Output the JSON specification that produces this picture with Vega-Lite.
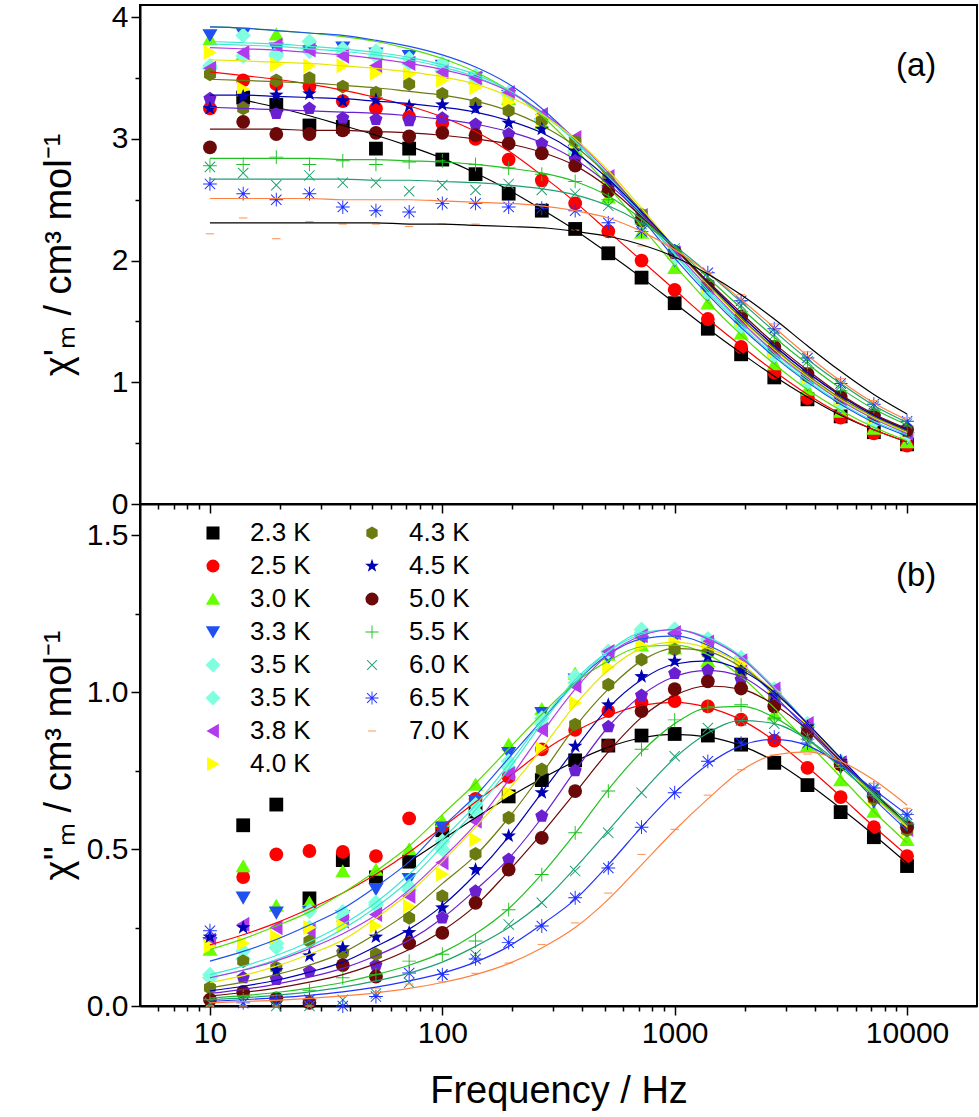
{
  "$schema": "https://vega.github.io/schema/vega-lite/v6.json",
  "padding": {"left": 39, "top": 1, "right": 3, "bottom": 2},
  "config": {
    "font": "Liberation Sans",
    "view": {"stroke": "black", "strokeWidth": 2},
    "axis": {"grid": false, "domainColor": "black", "domainWidth": 2, "tickColor": "black", "tickWidth": 1.5, "labelColor": "black", "titleColor": "black", "labelFont": "Liberation Sans", "titleFont": "Liberation Sans", "labelFontSize": 30, "titleFontSize": 38, "titleFontWeight": "normal", "labelPadding": 3}
  },
  "spacing": 0,
  "bounds": "flush",
  "resolve": {"scale": {"color": "independent", "shape": "independent", "stroke": "independent", "y": "independent", "x": "independent"}, "legend": {"color": "independent", "shape": "independent", "stroke": "independent"}},
  "datasets": {
    "d": [
      {"s":"2.3 K","f":13.9,"p1":3.34,"c1":3.32,"p2":0.576},
      {"s":"2.3 K","f":19.3,"p1":3.28,"c1":3.26,"p2":0.642},
      {"s":"2.3 K","f":26.8,"p1":3.11,"c1":3.19,"p2":0.343},
      {"s":"2.3 K","f":37.3,"p1":3.10,"c1":3.11,"p2":0.465},
      {"s":"2.3 K","f":51.8,"p1":2.92,"c1":3.03,"p2":0.41},
      {"s":"2.3 K","f":72,"p1":2.92,"c1":2.94,"p2":0.46,"c2":0.46},
      {"s":"2.3 K","f":100,"p1":2.83,"c1":2.84,"p2":0.56,"c2":0.53},
      {"s":"2.3 K","f":139,"p1":2.71,"c1":2.72,"p2":0.62,"c2":0.60},
      {"s":"2.3 K","f":193,"p1":2.55,"c1":2.58,"p2":0.668,"c2":0.665},
      {"s":"2.3 K","f":268,"p1":2.41,"c1":2.42,"p2":0.72,"c2":0.725},
      {"s":"2.3 K","f":373,"p1":2.26,"c1":2.25,"p2":0.783,"c2":0.78},
      {"s":"2.3 K","f":518,"p1":2.06,"c1":2.06,"p2":0.83,"c2":0.825},
      {"s":"2.3 K","f":720,"p1":1.86,"c1":1.86,"p2":0.862,"c2":0.855},
      {"s":"2.3 K","f":1000,"p1":1.65,"c1":1.65,"p2":0.867,"c2":0.866},
      {"s":"2.3 K","f":1389,"p1":1.44,"c1":1.44,"p2":0.862,"c2":0.858},
      {"s":"2.3 K","f":1931,"p1":1.23,"c1":1.24,"p2":0.833,"c2":0.83},
      {"s":"2.3 K","f":2683,"p1":1.04,"c1":1.05,"p2":0.775,"c2":0.78},
      {"s":"2.3 K","f":3728,"p1":0.86,"c1":0.88,"p2":0.704,"c2":0.71},
      {"s":"2.3 K","f":5179,"p1":0.72,"c1":0.73,"p2":0.618,"c2":0.63},
      {"s":"2.3 K","f":7197,"p1":0.59,"c1":0.61,"p2":0.538,"c2":0.545},
      {"s":"2.3 K","f":10000,"p1":0.49,"c1":0.51,"p2":0.446,"c2":0.455},

      {"s":"2.5 K","f":10,"p1":3.25,"c1":3.55,"c2":0.195},
      {"s":"2.5 K","f":13.9,"p1":3.48,"c1":3.52,"p2":0.411,"c2":0.227},
      {"s":"2.5 K","f":19.3,"p1":3.45,"c1":3.49,"p2":0.483,"c2":0.265},
      {"s":"2.5 K","f":26.8,"p1":3.43,"c1":3.45,"p2":0.494,"c2":0.31},
      {"s":"2.5 K","f":37.3,"p1":3.31,"c1":3.40,"p2":0.491,"c2":0.36},
      {"s":"2.5 K","f":51.8,"p1":3.25,"c1":3.34,"p2":0.478,"c2":0.42},
      {"s":"2.5 K","f":72,"p1":3.18,"c1":3.27,"p2":0.598,"c2":0.49},
      {"s":"2.5 K","f":100,"p1":3.13,"c1":3.18,"p2":0.573,"c2":0.57},
      {"s":"2.5 K","f":139,"p1":3.00,"c1":3.06,"p2":0.66,"c2":0.65},
      {"s":"2.5 K","f":193,"p1":2.83,"c1":2.90,"p2":0.73,"c2":0.73},
      {"s":"2.5 K","f":268,"p1":2.66,"c1":2.70,"p2":0.818,"c2":0.81},
      {"s":"2.5 K","f":373,"p1":2.47,"c1":2.48,"p2":0.88,"c2":0.875},
      {"s":"2.5 K","f":518,"p1":2.24,"c1":2.24,"p2":0.94,"c2":0.925},
      {"s":"2.5 K","f":720,"p1":2.00,"c1":2.00,"p2":0.967,"c2":0.958},
      {"s":"2.5 K","f":1000,"p1":1.76,"c1":1.76,"p2":0.972,"c2":0.968},
      {"s":"2.5 K","f":1389,"p1":1.52,"c1":1.52,"p2":0.955,"c2":0.952},
      {"s":"2.5 K","f":1931,"p1":1.29,"c1":1.30,"p2":0.913,"c2":0.912},
      {"s":"2.5 K","f":2683,"p1":1.08,"c1":1.09,"p2":0.846,"c2":0.846},
      {"s":"2.5 K","f":3728,"p1":0.87,"c1":0.90,"p2":0.759,"c2":0.762},
      {"s":"2.5 K","f":5179,"p1":0.71,"c1":0.74,"p2":0.666,"c2":0.668},
      {"s":"2.5 K","f":7197,"p1":0.58,"c1":0.61,"p2":0.57,"c2":0.572},
      {"s":"2.5 K","f":10000,"p1":0.48,"c1":0.51,"p2":0.478,"c2":0.48},

      {"s":"3.0 K","f":10,"p1":3.82,"c1":3.92,"p2":0.18,"c2":0.18},
      {"s":"3.0 K","f":13.9,"p1":3.70,"c1":3.91,"p2":0.446,"c2":0.214},
      {"s":"3.0 K","f":19.3,"p1":3.86,"c1":3.89,"p2":0.32,"c2":0.255},
      {"s":"3.0 K","f":26.8,"p1":3.79,"c1":3.87,"p2":0.33,"c2":0.30},
      {"s":"3.0 K","f":37.3,"p1":3.74,"c1":3.84,"p2":0.43,"c2":0.36},
      {"s":"3.0 K","f":51.8,"p1":3.71,"c1":3.80,"p2":0.435,"c2":0.43},
      {"s":"3.0 K","f":72,"p1":3.66,"c1":3.74,"p2":0.50,"c2":0.51},
      {"s":"3.0 K","f":100,"p1":3.60,"c1":3.66,"p2":0.59,"c2":0.61},
      {"s":"3.0 K","f":139,"p1":3.50,"c1":3.55,"p2":0.706,"c2":0.71},
      {"s":"3.0 K","f":193,"p1":3.33,"c1":3.40,"p2":0.834,"c2":0.82},
      {"s":"3.0 K","f":268,"p1":3.13,"c1":3.19,"p2":0.947,"c2":0.93},
      {"s":"3.0 K","f":373,"p1":2.92,"c1":2.92,"p2":1.06,"c2":1.03},
      {"s":"3.0 K","f":518,"p1":2.52,"c1":2.61,"p2":1.12,"c2":1.10},
      {"s":"3.0 K","f":720,"p1":2.23,"c1":2.28,"p2":1.15,"c2":1.145},
      {"s":"3.0 K","f":1000,"p1":1.94,"c1":1.96,"p2":1.14,"c2":1.15},
      {"s":"3.0 K","f":1389,"p1":1.65,"c1":1.66,"p2":1.10,"c2":1.12},
      {"s":"3.0 K","f":1931,"p1":1.40,"c1":1.39,"p2":1.03,"c2":1.05},
      {"s":"3.0 K","f":2683,"p1":1.15,"c1":1.15,"p2":0.93,"c2":0.95},
      {"s":"3.0 K","f":3728,"p1":0.94,"c1":0.94,"p2":0.83,"c2":0.84},
      {"s":"3.0 K","f":5179,"p1":0.76,"c1":0.77,"p2":0.72,"c2":0.73},
      {"s":"3.0 K","f":7197,"p1":0.62,"c1":0.63,"p2":0.62,"c2":0.62},
      {"s":"3.0 K","f":10000,"p1":0.51,"c1":0.52,"p2":0.53,"c2":0.52},

      {"s":"3.3 K","f":10,"p1":3.85,"c1":3.92,"p2":0.20,"c2":0.143},
      {"s":"3.3 K","f":13.9,"p1":3.86,"c1":3.91,"p2":0.345,"c2":0.174},
      {"s":"3.3 K","f":19.3,"p1":3.74,"c1":3.89,"p2":0.297,"c2":0.212},
      {"s":"3.3 K","f":26.8,"p1":3.72,"c1":3.87,"p2":0.30,"c2":0.258},
      {"s":"3.3 K","f":37.3,"p1":3.75,"c1":3.85,"p2":0.286,"c2":0.31},
      {"s":"3.3 K","f":51.8,"p1":3.70,"c1":3.81,"p2":0.372,"c2":0.38},
      {"s":"3.3 K","f":72,"p1":3.68,"c1":3.76,"p2":0.404,"c2":0.46},
      {"s":"3.3 K","f":100,"p1":3.60,"c1":3.69,"p2":0.568,"c2":0.57},
      {"s":"3.3 K","f":139,"p1":3.50,"c1":3.59,"p2":0.653,"c2":0.67},
      {"s":"3.3 K","f":193,"p1":3.35,"c1":3.45,"p2":0.806,"c2":0.79},
      {"s":"3.3 K","f":268,"p1":3.12,"c1":3.25,"p2":0.933,"c2":0.91},
      {"s":"3.3 K","f":373,"p1":2.90,"c1":2.99,"p2":1.04,"c2":1.03},
      {"s":"3.3 K","f":518,"p1":2.60,"c1":2.68,"p2":1.11,"c2":1.12},
      {"s":"3.3 K","f":720,"p1":2.30,"c1":2.35,"p2":1.16,"c2":1.17},
      {"s":"3.3 K","f":1000,"p1":2.00,"c1":2.02,"p2":1.17,"c2":1.18},
      {"s":"3.3 K","f":1389,"p1":1.72,"c1":1.72,"p2":1.14,"c2":1.15},
      {"s":"3.3 K","f":1931,"p1":1.45,"c1":1.45,"p2":1.08,"c2":1.09},
      {"s":"3.3 K","f":2683,"p1":1.20,"c1":1.21,"p2":0.98,"c2":0.99},
      {"s":"3.3 K","f":3728,"p1":0.98,"c1":1.00,"p2":0.87,"c2":0.88},
      {"s":"3.3 K","f":5179,"p1":0.80,"c1":0.82,"p2":0.76,"c2":0.77},
      {"s":"3.3 K","f":7197,"p1":0.65,"c1":0.67,"p2":0.65,"c2":0.66},
      {"s":"3.3 K","f":10000,"p1":0.54,"c1":0.56,"p2":0.56,"c2":0.56},

      {"s":"3.5 K","f":10,"p1":3.60,"c1":3.80,"p2":0.10,"c2":0.10},
      {"s":"3.5 K","f":13.9,"p1":3.85,"c1":3.79,"p2":0.175,"c2":0.127},
      {"s":"3.5 K","f":19.3,"p1":3.68,"c1":3.78,"p2":0.186,"c2":0.161},
      {"s":"3.5 K","f":26.8,"p1":3.80,"c1":3.76,"p2":0.302,"c2":0.205},
      {"s":"3.5 K","f":37.3,"p1":3.74,"c1":3.74,"p2":0.283,"c2":0.26},
      {"s":"3.5 K","f":51.8,"p1":3.72,"c1":3.71,"p2":0.322,"c2":0.33},
      {"s":"3.5 K","f":72,"p1":3.66,"c1":3.67,"p2":0.38,"c2":0.42},
      {"s":"3.5 K","f":100,"p1":3.62,"c1":3.61,"p2":0.525,"c2":0.53},
      {"s":"3.5 K","f":139,"p1":3.52,"c1":3.53,"p2":0.642,"c2":0.64},
      {"s":"3.5 K","f":193,"p1":3.38,"c1":3.40,"p2":0.78,"c2":0.77},
      {"s":"3.5 K","f":268,"p1":3.16,"c1":3.22,"p2":0.917,"c2":0.91},
      {"s":"3.5 K","f":373,"p1":2.90,"c1":2.98,"p2":1.05,"c2":1.04},
      {"s":"3.5 K","f":518,"p1":2.60,"c1":2.69,"p2":1.13,"c2":1.13},
      {"s":"3.5 K","f":720,"p1":2.32,"c1":2.37,"p2":1.19,"c2":1.185},
      {"s":"3.5 K","f":1000,"p1":2.02,"c1":2.05,"p2":1.20,"c2":1.20},
      {"s":"3.5 K","f":1389,"p1":1.74,"c1":1.74,"p2":1.16,"c2":1.17},
      {"s":"3.5 K","f":1931,"p1":1.46,"c1":1.47,"p2":1.10,"c2":1.11},
      {"s":"3.5 K","f":2683,"p1":1.22,"c1":1.22,"p2":1.00,"c2":1.01},
      {"s":"3.5 K","f":3728,"p1":1.00,"c1":1.01,"p2":0.89,"c2":0.90},
      {"s":"3.5 K","f":5179,"p1":0.82,"c1":0.83,"p2":0.78,"c2":0.78},
      {"s":"3.5 K","f":7197,"p1":0.67,"c1":0.68,"p2":0.67,"c2":0.67},
      {"s":"3.5 K","f":10000,"p1":0.56,"c1":0.57,"p2":0.57,"c2":0.57},

      {"s":"3.5 K ","f":10,"p1":3.58,"c1":3.78,"p2":0.09,"c2":0.09},
      {"s":"3.5 K ","f":13.9,"p1":3.68,"c1":3.77,"p2":0.15,"c2":0.115},
      {"s":"3.5 K ","f":19.3,"p1":3.70,"c1":3.76,"p2":0.20,"c2":0.148},
      {"s":"3.5 K ","f":26.8,"p1":3.72,"c1":3.74,"p2":0.25,"c2":0.19},
      {"s":"3.5 K ","f":37.3,"p1":3.70,"c1":3.72,"p2":0.30,"c2":0.245},
      {"s":"3.5 K ","f":51.8,"p1":3.68,"c1":3.69,"p2":0.33,"c2":0.315},
      {"s":"3.5 K ","f":72,"p1":3.62,"c1":3.65,"p2":0.37,"c2":0.40},
      {"s":"3.5 K ","f":100,"p1":3.56,"c1":3.59,"p2":0.50,"c2":0.51},
      {"s":"3.5 K ","f":139,"p1":3.50,"c1":3.51,"p2":0.62,"c2":0.625},
      {"s":"3.5 K ","f":193,"p1":3.36,"c1":3.39,"p2":0.76,"c2":0.755},
      {"s":"3.5 K ","f":268,"p1":3.15,"c1":3.21,"p2":0.90,"c2":0.90},
      {"s":"3.5 K ","f":373,"p1":2.90,"c1":2.98,"p2":1.03,"c2":1.03},
      {"s":"3.5 K ","f":518,"p1":2.62,"c1":2.70,"p2":1.13,"c2":1.13},
      {"s":"3.5 K ","f":720,"p1":2.33,"c1":2.38,"p2":1.20,"c2":1.19},
      {"s":"3.5 K ","f":1000,"p1":2.04,"c1":2.06,"p2":1.20,"c2":1.20},
      {"s":"3.5 K ","f":1389,"p1":1.76,"c1":1.76,"p2":1.17,"c2":1.175},
      {"s":"3.5 K ","f":1931,"p1":1.48,"c1":1.49,"p2":1.11,"c2":1.115},
      {"s":"3.5 K ","f":2683,"p1":1.24,"c1":1.24,"p2":1.01,"c2":1.015},
      {"s":"3.5 K ","f":3728,"p1":1.02,"c1":1.03,"p2":0.90,"c2":0.90},
      {"s":"3.5 K ","f":5179,"p1":0.84,"c1":0.85,"p2":0.78,"c2":0.785},
      {"s":"3.5 K ","f":7197,"p1":0.69,"c1":0.70,"p2":0.67,"c2":0.675},
      {"s":"3.5 K ","f":10000,"p1":0.58,"c1":0.58,"p2":0.58,"c2":0.575},

      {"s":"3.8 K","f":10,"p1":3.58,"c1":3.75,"p2":0.21,"c2":0.09},
      {"s":"3.8 K","f":13.9,"p1":3.71,"c1":3.74,"p2":0.26,"c2":0.114},
      {"s":"3.8 K","f":19.3,"p1":3.77,"c1":3.73,"p2":0.25,"c2":0.144},
      {"s":"3.8 K","f":26.8,"p1":3.73,"c1":3.71,"p2":0.24,"c2":0.183},
      {"s":"3.8 K","f":37.3,"p1":3.68,"c1":3.69,"p2":0.27,"c2":0.23},
      {"s":"3.8 K","f":51.8,"p1":3.60,"c1":3.66,"p2":0.292,"c2":0.29},
      {"s":"3.8 K","f":72,"p1":3.62,"c1":3.62,"p2":0.35,"c2":0.37},
      {"s":"3.8 K","f":100,"p1":3.55,"c1":3.57,"p2":0.457,"c2":0.47},
      {"s":"3.8 K","f":139,"p1":3.50,"c1":3.50,"p2":0.589,"c2":0.58},
      {"s":"3.8 K","f":193,"p1":3.38,"c1":3.39,"p2":0.74,"c2":0.72},
      {"s":"3.8 K","f":268,"p1":3.20,"c1":3.22,"p2":0.88,"c2":0.87},
      {"s":"3.8 K","f":373,"p1":3.01,"c1":3.00,"p2":1.02,"c2":1.01},
      {"s":"3.8 K","f":518,"p1":2.69,"c1":2.72,"p2":1.13,"c2":1.12},
      {"s":"3.8 K","f":720,"p1":2.37,"c1":2.40,"p2":1.18,"c2":1.18},
      {"s":"3.8 K","f":1000,"p1":2.06,"c1":2.08,"p2":1.19,"c2":1.20},
      {"s":"3.8 K","f":1389,"p1":1.78,"c1":1.78,"p2":1.16,"c2":1.17},
      {"s":"3.8 K","f":1931,"p1":1.50,"c1":1.50,"p2":1.10,"c2":1.11},
      {"s":"3.8 K","f":2683,"p1":1.25,"c1":1.25,"p2":1.01,"c2":1.01},
      {"s":"3.8 K","f":3728,"p1":1.03,"c1":1.04,"p2":0.90,"c2":0.90},
      {"s":"3.8 K","f":5179,"p1":0.85,"c1":0.85,"p2":0.775,"c2":0.78},
      {"s":"3.8 K","f":7197,"p1":0.70,"c1":0.70,"p2":0.665,"c2":0.67},
      {"s":"3.8 K","f":10000,"p1":0.58,"c1":0.58,"p2":0.563,"c2":0.57},

      {"s":"4.0 K","f":10,"p1":3.71,"c1":3.65,"p2":0.191,"c2":0.075},
      {"s":"4.0 K","f":13.9,"p1":3.41,"c1":3.64,"p2":0.20,"c2":0.097},
      {"s":"4.0 K","f":19.3,"p1":3.61,"c1":3.63,"p2":0.22,"c2":0.127},
      {"s":"4.0 K","f":26.8,"p1":3.60,"c1":3.62,"p2":0.25,"c2":0.165},
      {"s":"4.0 K","f":37.3,"p1":3.60,"c1":3.60,"p2":0.255,"c2":0.21},
      {"s":"4.0 K","f":51.8,"p1":3.54,"c1":3.58,"p2":0.255,"c2":0.28},
      {"s":"4.0 K","f":72,"p1":3.53,"c1":3.55,"p2":0.318,"c2":0.36},
      {"s":"4.0 K","f":100,"p1":3.48,"c1":3.51,"p2":0.42,"c2":0.46},
      {"s":"4.0 K","f":139,"p1":3.42,"c1":3.45,"p2":0.53,"c2":0.57},
      {"s":"4.0 K","f":193,"p1":3.30,"c1":3.35,"p2":0.68,"c2":0.69},
      {"s":"4.0 K","f":268,"p1":3.15,"c1":3.20,"p2":0.82,"c2":0.82},
      {"s":"4.0 K","f":373,"p1":2.95,"c1":3.00,"p2":0.966,"c2":0.96},
      {"s":"4.0 K","f":518,"p1":2.68,"c1":2.74,"p2":1.08,"c2":1.07},
      {"s":"4.0 K","f":720,"p1":2.37,"c1":2.43,"p2":1.15,"c2":1.14},
      {"s":"4.0 K","f":1000,"p1":2.07,"c1":2.11,"p2":1.16,"c2":1.16},
      {"s":"4.0 K","f":1389,"p1":1.79,"c1":1.80,"p2":1.14,"c2":1.14},
      {"s":"4.0 K","f":1931,"p1":1.51,"c1":1.52,"p2":1.09,"c2":1.09},
      {"s":"4.0 K","f":2683,"p1":1.26,"c1":1.27,"p2":1.00,"c2":1.00},
      {"s":"4.0 K","f":3728,"p1":1.04,"c1":1.05,"p2":0.89,"c2":0.90},
      {"s":"4.0 K","f":5179,"p1":0.86,"c1":0.86,"p2":0.77,"c2":0.78},
      {"s":"4.0 K","f":7197,"p1":0.71,"c1":0.71,"p2":0.66,"c2":0.67},
      {"s":"4.0 K","f":10000,"p1":0.59,"c1":0.59,"p2":0.56,"c2":0.57},

      {"s":"P","f":10,"p1":3.33,"c1":3.26,"p2":0.022,"c2":0.04},
      {"s":"P","f":13.9,"p1":3.26,"c1":3.25,"p2":0.09,"c2":0.053},
      {"s":"P","f":19.3,"p1":3.21,"c1":3.24,"p2":0.085,"c2":0.07},
      {"s":"P","f":26.8,"p1":3.25,"c1":3.23,"p2":0.11,"c2":0.092},
      {"s":"P","f":37.3,"p1":3.17,"c1":3.22,"p2":0.17,"c2":0.12},
      {"s":"P","f":51.8,"p1":3.16,"c1":3.21,"p2":0.13,"c2":0.16},
      {"s":"P","f":72,"p1":3.15,"c1":3.19,"p2":0.20,"c2":0.21},
      {"s":"P","f":100,"p1":3.17,"c1":3.16,"p2":0.281,"c2":0.28},
      {"s":"P","f":139,"p1":3.12,"c1":3.12,"p2":0.366,"c2":0.37},
      {"s":"P","f":193,"p1":3.04,"c1":3.06,"p2":0.467,"c2":0.47},
      {"s":"P","f":268,"p1":2.96,"c1":2.97,"p2":0.605,"c2":0.60},
      {"s":"P","f":373,"p1":2.83,"c1":2.83,"p2":0.75,"c2":0.75},
      {"s":"P","f":518,"p1":2.60,"c1":2.63,"p2":0.89,"c2":0.89},
      {"s":"P","f":720,"p1":2.34,"c1":2.38,"p2":0.99,"c2":0.99},
      {"s":"P","f":1000,"p1":2.06,"c1":2.10,"p2":1.06,"c2":1.05},
      {"s":"P","f":1389,"p1":1.79,"c1":1.82,"p2":1.07,"c2":1.07},
      {"s":"P","f":1931,"p1":1.53,"c1":1.55,"p2":1.04,"c2":1.05},
      {"s":"P","f":2683,"p1":1.28,"c1":1.30,"p2":0.97,"c2":0.98},
      {"s":"P","f":3728,"p1":1.06,"c1":1.08,"p2":0.88,"c2":0.89},
      {"s":"P","f":5179,"p1":0.87,"c1":0.89,"p2":0.77,"c2":0.78},
      {"s":"P","f":7197,"p1":0.72,"c1":0.73,"p2":0.67,"c2":0.68},
      {"s":"P","f":10000,"p1":0.60,"c1":0.61,"p2":0.57,"c2":0.58},

      {"s":"4.3 K","f":10,"p1":3.53,"c1":3.49,"p2":0.058,"c2":0.058},
      {"s":"4.3 K","f":13.9,"p1":3.25,"c1":3.48,"p2":0.143,"c2":0.076},
      {"s":"4.3 K","f":19.3,"p1":3.48,"c1":3.47,"p2":0.122,"c2":0.10},
      {"s":"4.3 K","f":26.8,"p1":3.50,"c1":3.46,"p2":0.207,"c2":0.13},
      {"s":"4.3 K","f":37.3,"p1":3.43,"c1":3.44,"p2":0.17,"c2":0.17},
      {"s":"4.3 K","f":51.8,"p1":3.38,"c1":3.42,"p2":0.165,"c2":0.23},
      {"s":"4.3 K","f":72,"p1":3.45,"c1":3.39,"p2":0.281,"c2":0.30},
      {"s":"4.3 K","f":100,"p1":3.37,"c1":3.36,"p2":0.35,"c2":0.39},
      {"s":"4.3 K","f":139,"p1":3.29,"c1":3.31,"p2":0.485,"c2":0.48},
      {"s":"4.3 K","f":193,"p1":3.23,"c1":3.23,"p2":0.60,"c2":0.60},
      {"s":"4.3 K","f":268,"p1":3.15,"c1":3.11,"p2":0.754,"c2":0.74},
      {"s":"4.3 K","f":373,"p1":2.98,"c1":2.94,"p2":0.897,"c2":0.89},
      {"s":"4.3 K","f":518,"p1":2.68,"c1":2.70,"p2":1.024,"c2":1.01},
      {"s":"4.3 K","f":720,"p1":2.38,"c1":2.41,"p2":1.104,"c2":1.10},
      {"s":"4.3 K","f":1000,"p1":2.08,"c1":2.10,"p2":1.136,"c2":1.14},
      {"s":"4.3 K","f":1389,"p1":1.80,"c1":1.81,"p2":1.125,"c2":1.13},
      {"s":"4.3 K","f":1931,"p1":1.52,"c1":1.53,"p2":1.066,"c2":1.08},
      {"s":"4.3 K","f":2683,"p1":1.27,"c1":1.28,"p2":0.987,"c2":1.00},
      {"s":"4.3 K","f":3728,"p1":1.05,"c1":1.06,"p2":0.886,"c2":0.90},
      {"s":"4.3 K","f":5179,"p1":0.87,"c1":0.87,"p2":0.77,"c2":0.79},
      {"s":"4.3 K","f":7197,"p1":0.72,"c1":0.72,"p2":0.66,"c2":0.68},
      {"s":"4.3 K","f":10000,"p1":0.60,"c1":0.60,"p2":0.56,"c2":0.58},

      {"s":"4.5 K","f":10,"p1":3.25,"c1":3.36,"p2":0.22,"c2":0.048},
      {"s":"4.5 K","f":13.9,"p1":3.35,"c1":3.36,"p2":0.25,"c2":0.063},
      {"s":"4.5 K","f":19.3,"p1":3.36,"c1":3.35,"p2":0.113,"c2":0.082},
      {"s":"4.5 K","f":26.8,"p1":3.37,"c1":3.34,"p2":0.16,"c2":0.108},
      {"s":"4.5 K","f":37.3,"p1":3.31,"c1":3.33,"p2":0.186,"c2":0.14},
      {"s":"4.5 K","f":51.8,"p1":3.32,"c1":3.31,"p2":0.22,"c2":0.19},
      {"s":"4.5 K","f":72,"p1":3.27,"c1":3.29,"p2":0.234,"c2":0.245},
      {"s":"4.5 K","f":100,"p1":3.28,"c1":3.26,"p2":0.313,"c2":0.32},
      {"s":"4.5 K","f":139,"p1":3.25,"c1":3.22,"p2":0.435,"c2":0.42},
      {"s":"4.5 K","f":193,"p1":3.13,"c1":3.15,"p2":0.542,"c2":0.54},
      {"s":"4.5 K","f":268,"p1":3.08,"c1":3.05,"p2":0.68,"c2":0.68},
      {"s":"4.5 K","f":373,"p1":2.90,"c1":2.89,"p2":0.828,"c2":0.82},
      {"s":"4.5 K","f":518,"p1":2.65,"c1":2.67,"p2":0.96,"c2":0.95},
      {"s":"4.5 K","f":720,"p1":2.36,"c1":2.40,"p2":1.05,"c2":1.04},
      {"s":"4.5 K","f":1000,"p1":2.07,"c1":2.11,"p2":1.099,"c2":1.09},
      {"s":"4.5 K","f":1389,"p1":1.80,"c1":1.82,"p2":1.115,"c2":1.10},
      {"s":"4.5 K","f":1931,"p1":1.53,"c1":1.55,"p2":1.07,"c2":1.07},
      {"s":"4.5 K","f":2683,"p1":1.28,"c1":1.30,"p2":0.99,"c2":1.00},
      {"s":"4.5 K","f":3728,"p1":1.06,"c1":1.08,"p2":0.89,"c2":0.90},
      {"s":"4.5 K","f":5179,"p1":0.87,"c1":0.89,"p2":0.78,"c2":0.79},
      {"s":"4.5 K","f":7197,"p1":0.72,"c1":0.73,"p2":0.67,"c2":0.68},
      {"s":"4.5 K","f":10000,"p1":0.60,"c1":0.61,"p2":0.57,"c2":0.58},

      {"s":"5.0 K","f":10,"p1":2.93,"c1":3.08,"p2":0.02,"c2":0.032},
      {"s":"5.0 K","f":13.9,"p1":3.14,"c1":3.08,"p2":0.045,"c2":0.043},
      {"s":"5.0 K","f":19.3,"p1":3.04,"c1":3.08,"p2":0.024,"c2":0.057},
      {"s":"5.0 K","f":26.8,"p1":3.04,"c1":3.07,"p2":0.01,"c2":0.076},
      {"s":"5.0 K","f":37.3,"p1":3.07,"c1":3.07,"p2":0.13,"c2":0.10},
      {"s":"5.0 K","f":51.8,"p1":3.05,"c1":3.06,"p2":0.094,"c2":0.135},
      {"s":"5.0 K","f":72,"p1":3.02,"c1":3.05,"p2":0.20,"c2":0.18},
      {"s":"5.0 K","f":100,"p1":3.05,"c1":3.03,"p2":0.233,"c2":0.24},
      {"s":"5.0 K","f":139,"p1":3.03,"c1":3.00,"p2":0.329,"c2":0.32},
      {"s":"5.0 K","f":193,"p1":2.96,"c1":2.96,"p2":0.435,"c2":0.43},
      {"s":"5.0 K","f":268,"p1":2.88,"c1":2.89,"p2":0.536,"c2":0.55},
      {"s":"5.0 K","f":373,"p1":2.78,"c1":2.78,"p2":0.685,"c2":0.68},
      {"s":"5.0 K","f":518,"p1":2.57,"c1":2.60,"p2":0.83,"c2":0.81},
      {"s":"5.0 K","f":720,"p1":2.33,"c1":2.36,"p2":0.94,"c2":0.92},
      {"s":"5.0 K","f":1000,"p1":2.07,"c1":2.10,"p2":1.01,"c2":0.99},
      {"s":"5.0 K","f":1389,"p1":1.80,"c1":1.83,"p2":1.035,"c2":1.02},
      {"s":"5.0 K","f":1931,"p1":1.54,"c1":1.57,"p2":1.012,"c2":1.01},
      {"s":"5.0 K","f":2683,"p1":1.29,"c1":1.32,"p2":0.955,"c2":0.96},
      {"s":"5.0 K","f":3728,"p1":1.07,"c1":1.10,"p2":0.87,"c2":0.88},
      {"s":"5.0 K","f":5179,"p1":0.88,"c1":0.90,"p2":0.77,"c2":0.78},
      {"s":"5.0 K","f":7197,"p1":0.73,"c1":0.74,"p2":0.67,"c2":0.68},
      {"s":"5.0 K","f":10000,"p1":0.61,"c1":0.62,"p2":0.57,"c2":0.58},

      {"s":"5.5 K","f":10,"p1":2.78,"c1":2.84,"p2":0.02,"c2":0.025},
      {"s":"5.5 K","f":13.9,"p1":2.79,"c1":2.84,"p2":0.03,"c2":0.033},
      {"s":"5.5 K","f":19.3,"p1":2.85,"c1":2.84,"p2":0.02,"c2":0.043},
      {"s":"5.5 K","f":26.8,"p1":2.79,"c1":2.84,"p2":0.05,"c2":0.057},
      {"s":"5.5 K","f":37.3,"p1":2.82,"c1":2.83,"p2":0.09,"c2":0.075},
      {"s":"5.5 K","f":51.8,"p1":2.79,"c1":2.83,"p2":0.10,"c2":0.10},
      {"s":"5.5 K","f":72,"p1":2.81,"c1":2.82,"p2":0.143,"c2":0.13},
      {"s":"5.5 K","f":100,"p1":2.82,"c1":2.81,"p2":0.165,"c2":0.17},
      {"s":"5.5 K","f":139,"p1":2.79,"c1":2.79,"p2":0.207,"c2":0.23},
      {"s":"5.5 K","f":193,"p1":2.76,"c1":2.76,"p2":0.307,"c2":0.31},
      {"s":"5.5 K","f":268,"p1":2.71,"c1":2.72,"p2":0.419,"c2":0.42},
      {"s":"5.5 K","f":373,"p1":2.65,"c1":2.65,"p2":0.552,"c2":0.55},
      {"s":"5.5 K","f":518,"p1":2.50,"c1":2.53,"p2":0.685,"c2":0.69},
      {"s":"5.5 K","f":720,"p1":2.30,"c1":2.34,"p2":0.818,"c2":0.81},
      {"s":"5.5 K","f":1000,"p1":2.07,"c1":2.11,"p2":0.912,"c2":0.90},
      {"s":"5.5 K","f":1389,"p1":1.83,"c1":1.86,"p2":0.955,"c2":0.95},
      {"s":"5.5 K","f":1931,"p1":1.58,"c1":1.61,"p2":0.96,"c2":0.955},
      {"s":"5.5 K","f":2683,"p1":1.34,"c1":1.37,"p2":0.918,"c2":0.92},
      {"s":"5.5 K","f":3728,"p1":1.12,"c1":1.15,"p2":0.85,"c2":0.85},
      {"s":"5.5 K","f":5179,"p1":0.93,"c1":0.95,"p2":0.76,"c2":0.76},
      {"s":"5.5 K","f":7197,"p1":0.77,"c1":0.78,"p2":0.67,"c2":0.67},
      {"s":"5.5 K","f":10000,"p1":0.64,"c1":0.65,"p2":0.58,"c2":0.58},

      {"s":"6.0 K","f":10,"p1":2.77,"c1":2.67,"p2":0.01,"c2":0.02},
      {"s":"6.0 K","f":13.9,"p1":2.72,"c1":2.67,"p2":0.01,"c2":0.026},
      {"s":"6.0 K","f":19.3,"p1":2.62,"c1":2.67,"p2":0.0,"c2":0.034},
      {"s":"6.0 K","f":26.8,"p1":2.70,"c1":2.67,"p2":0.0,"c2":0.045},
      {"s":"6.0 K","f":37.3,"p1":2.64,"c1":2.67,"p2":0.02,"c2":0.06},
      {"s":"6.0 K","f":51.8,"p1":2.64,"c1":2.66,"p2":0.04,"c2":0.08},
      {"s":"6.0 K","f":72,"p1":2.57,"c1":2.66,"p2":0.074,"c2":0.105},
      {"s":"6.0 K","f":100,"p1":2.62,"c1":2.65,"p2":0.10,"c2":0.14},
      {"s":"6.0 K","f":139,"p1":2.58,"c1":2.64,"p2":0.164,"c2":0.19},
      {"s":"6.0 K","f":193,"p1":2.63,"c1":2.62,"p2":0.26,"c2":0.25},
      {"s":"6.0 K","f":268,"p1":2.58,"c1":2.59,"p2":0.329,"c2":0.33},
      {"s":"6.0 K","f":373,"p1":2.55,"c1":2.54,"p2":0.43,"c2":0.44},
      {"s":"6.0 K","f":518,"p1":2.45,"c1":2.45,"p2":0.552,"c2":0.56},
      {"s":"6.0 K","f":720,"p1":2.30,"c1":2.31,"p2":0.68,"c2":0.68},
      {"s":"6.0 K","f":1000,"p1":2.10,"c1":2.12,"p2":0.796,"c2":0.79},
      {"s":"6.0 K","f":1389,"p1":1.87,"c1":1.90,"p2":0.886,"c2":0.87},
      {"s":"6.0 K","f":1931,"p1":1.63,"c1":1.66,"p2":0.91,"c2":0.91},
      {"s":"6.0 K","f":2683,"p1":1.39,"c1":1.42,"p2":0.90,"c2":0.90},
      {"s":"6.0 K","f":3728,"p1":1.17,"c1":1.19,"p2":0.86,"c2":0.85},
      {"s":"6.0 K","f":5179,"p1":0.97,"c1":0.99,"p2":0.78,"c2":0.77},
      {"s":"6.0 K","f":7197,"p1":0.80,"c1":0.81,"p2":0.69,"c2":0.68},
      {"s":"6.0 K","f":10000,"p1":0.66,"c1":0.67,"p2":0.60,"c2":0.59},

      {"s":"6.5 K","f":10,"p1":2.63,"c1":2.51,"p2":0.24,"c2":0.015},
      {"s":"6.5 K","f":13.9,"p1":2.55,"c1":2.51,"p2":0.01,"c2":0.02},
      {"s":"6.5 K","f":19.3,"p1":2.50,"c1":2.51,"p2":0.02,"c2":0.026},
      {"s":"6.5 K","f":26.8,"p1":2.55,"c1":2.51,"p2":0.02,"c2":0.034},
      {"s":"6.5 K","f":37.3,"p1":2.44,"c1":2.50,"p2":0.0,"c2":0.045},
      {"s":"6.5 K","f":51.8,"p1":2.41,"c1":2.50,"p2":0.03,"c2":0.06},
      {"s":"6.5 K","f":72,"p1":2.40,"c1":2.50,"p2":0.105,"c2":0.08},
      {"s":"6.5 K","f":100,"p1":2.47,"c1":2.49,"p2":0.10,"c2":0.105},
      {"s":"6.5 K","f":139,"p1":2.47,"c1":2.48,"p2":0.15,"c2":0.14},
      {"s":"6.5 K","f":193,"p1":2.44,"c1":2.47,"p2":0.202,"c2":0.19},
      {"s":"6.5 K","f":268,"p1":2.43,"c1":2.45,"p2":0.255,"c2":0.26},
      {"s":"6.5 K","f":373,"p1":2.41,"c1":2.41,"p2":0.345,"c2":0.34},
      {"s":"6.5 K","f":518,"p1":2.31,"c1":2.35,"p2":0.44,"c2":0.45},
      {"s":"6.5 K","f":720,"p1":2.24,"c1":2.24,"p2":0.57,"c2":0.57},
      {"s":"6.5 K","f":1000,"p1":2.08,"c1":2.09,"p2":0.68,"c2":0.68},
      {"s":"6.5 K","f":1389,"p1":1.90,"c1":1.90,"p2":0.78,"c2":0.77},
      {"s":"6.5 K","f":1931,"p1":1.67,"c1":1.68,"p2":0.838,"c2":0.83},
      {"s":"6.5 K","f":2683,"p1":1.44,"c1":1.45,"p2":0.857,"c2":0.85},
      {"s":"6.5 K","f":3728,"p1":1.20,"c1":1.22,"p2":0.838,"c2":0.83},
      {"s":"6.5 K","f":5179,"p1":0.99,"c1":1.01,"p2":0.78,"c2":0.77},
      {"s":"6.5 K","f":7197,"p1":0.82,"c1":0.83,"p2":0.695,"c2":0.69},
      {"s":"6.5 K","f":10000,"p1":0.68,"c1":0.69,"p2":0.61,"c2":0.61},

      {"s":"7.0 K","f":10,"p1":2.22,"c1":2.31,"p2":0.0,"c2":0.01},
      {"s":"7.0 K","f":13.9,"p1":2.35,"c1":2.31,"p2":0.0,"c2":0.014},
      {"s":"7.0 K","f":19.3,"p1":2.18,"c1":2.31,"p2":0.0,"c2":0.018},
      {"s":"7.0 K","f":26.8,"p1":2.32,"c1":2.31,"p2":0.0,"c2":0.024},
      {"s":"7.0 K","f":37.3,"p1":2.30,"c1":2.31,"p2":0.03,"c2":0.032},
      {"s":"7.0 K","f":51.8,"p1":2.30,"c1":2.31,"p2":0.057,"c2":0.042},
      {"s":"7.0 K","f":72,"p1":2.28,"c1":2.30,"p2":0.07,"c2":0.056},
      {"s":"7.0 K","f":100,"p1":2.30,"c1":2.30,"p2":0.077,"c2":0.075},
      {"s":"7.0 K","f":139,"p1":2.30,"c1":2.29,"p2":0.104,"c2":0.10},
      {"s":"7.0 K","f":193,"p1":2.28,"c1":2.28,"p2":0.137,"c2":0.135},
      {"s":"7.0 K","f":268,"p1":2.27,"c1":2.27,"p2":0.196,"c2":0.185},
      {"s":"7.0 K","f":373,"p1":2.25,"c1":2.24,"p2":0.265,"c2":0.25},
      {"s":"7.0 K","f":518,"p1":2.20,"c1":2.20,"p2":0.36,"c2":0.34},
      {"s":"7.0 K","f":720,"p1":2.12,"c1":2.13,"p2":0.483,"c2":0.45},
      {"s":"7.0 K","f":1000,"p1":2.03,"c1":2.03,"p2":0.563,"c2":0.56},
      {"s":"7.0 K","f":1389,"p1":1.90,"c1":1.89,"p2":0.672,"c2":0.66},
      {"s":"7.0 K","f":1931,"p1":1.72,"c1":1.72,"p2":0.753,"c2":0.75},
      {"s":"7.0 K","f":2683,"p1":1.48,"c1":1.52,"p2":0.80,"c2":0.80},
      {"s":"7.0 K","f":3728,"p1":1.25,"c1":1.30,"p2":0.803,"c2":0.81},
      {"s":"7.0 K","f":5179,"p1":1.03,"c1":1.09,"p2":0.77,"c2":0.78},
      {"s":"7.0 K","f":7197,"p1":0.85,"c1":0.90,"p2":0.71,"c2":0.72},
      {"s":"7.0 K","f":10000,"p1":0.71,"c1":0.74,"p2":0.63,"c2":0.64}
    ]
  },
  "vconcat": [
    {
      "width": 837,
      "height": 499,
      "layer": [
        {
          "data": {"name": "d"},
          "transform": [{"filter": {"field": "p1", "valid": true}}],
          "mark": {"type": "point", "filled": true, "opacity": 1, "size": 190, "strokeWidth": 0},
          "encoding": {
            "x": {"field": "f", "type": "quantitative", "scale": {"type": "log", "domain": [5, 20000], "nice": false},
              "axis": {"title": null, "labels": false, "values": [6,7,8,9,10,20,30,40,50,60,70,80,90,100,200,300,400,500,600,700,800,900,1000,2000,3000,4000,5000,6000,7000,8000,9000,10000],
                "tickSize": {"condition": {"test": "indexof([10,100,1000,10000], datum.value) >= 0", "value": 9}, "value": 5}}},
            "y": {"field": "p1", "type": "quantitative", "scale": {"domain": [0, 4.1], "nice": false},
              "axis": {"title": "χ'ₘ / cm³ mol⁻¹", "titleX": -81, "titleBaseline": "middle", "values": [0,0.5,1,1.5,2,2.5,3,3.5,4],
                "labelExpr": "datum.value % 1 === 0 ? format(datum.value, 'd') : ''",
                "tickSize": {"condition": {"test": "datum.value % 1 === 0", "value": 9}, "value": 5}}},
            "color": {"field": "s", "type": "nominal", "legend": null,
              "scale": {"domain": ["2.3 K","2.5 K","3.0 K","3.3 K","3.5 K","3.5 K ","3.8 K","4.0 K","P","4.3 K","4.5 K","5.0 K","5.5 K","6.0 K","6.5 K","7.0 K"],
                "range": ["#000000","#FF0000","#66FF00","#2050F0","#7FFFDF","#7FFFDF","#B23AEE","#FFFF00","#6A1FD1","#6B7B0F","#0000B4","#6B0808","#22C022","#1FA070","#2030FF","#FF9A60"]}},
            "shape": {"field": "s", "type": "nominal", "legend": null,
              "scale": {"domain": ["2.3 K","2.5 K","3.0 K","3.3 K","3.5 K","3.5 K ","3.8 K","4.0 K","P","4.3 K","4.5 K","5.0 K","5.5 K","6.0 K","6.5 K","7.0 K"],
                "range": ["square","circle","M0,-1L1.1,0.9H-1.1Z","M0,1L1.1,-0.9H-1.1Z","M0,-1.15L1.15,0L0,1.15L-1.15,0Z","M0,-1.15L1.15,0L0,1.15L-1.15,0Z","M-1,0L0.9,-1.1V1.1Z","M1,0L-0.9,-1.1V1.1Z","M0,-1L0.951,-0.309L0.588,0.809L-0.588,0.809L-0.951,-0.309Z","M0,-1L0.866,-0.5L0.866,0.5L0,1L-0.866,0.5L-0.866,-0.5Z","M0,-1.1L0.26,-0.36L1.05,-0.34L0.42,0.14L0.65,0.89L0,0.44L-0.65,0.89L-0.42,0.14L-1.05,-0.34L-0.26,-0.36Z","circle","M-0.07,-1H0.07V-0.07H1V0.07H0.07V1H-0.07V0.07H-1V-0.07H-0.07Z","M-0.7,-0.8L0.8,0.7L0.7,0.8L-0.8,-0.7ZM-0.8,0.7L0.7,-0.8L0.8,-0.7L-0.7,0.8Z","M-0.07,-1H0.07V-0.07H1V0.07H0.07V1H-0.07V0.07H-1V-0.07H-0.07ZM-0.7,-0.8L0.8,0.7L0.7,0.8L-0.8,-0.7ZM-0.8,0.7L0.7,-0.8L0.8,-0.7L-0.7,0.8ZM-0.2,-0.2H0.2V0.2H-0.2Z","M-0.6,-0.08H0.6V0.08H-0.6Z"]}}
          }
        },
        {
          "data": {"name": "d"},
          "transform": [{"filter": {"field": "c1", "valid": true}}],
          "mark": {"type": "line", "interpolate": "monotone", "strokeWidth": 1.2},
          "encoding": {
            "x": {"field": "f", "type": "quantitative"},
            "y": {"field": "c1", "type": "quantitative", "title": "χ'ₘ / cm³ mol⁻¹"},
            "stroke": {"field": "s", "type": "nominal", "legend": null,
              "scale": {"domain": ["2.3 K","2.5 K","3.0 K","3.3 K","3.5 K","3.5 K ","3.8 K","4.0 K","P","4.3 K","4.5 K","5.0 K","5.5 K","6.0 K","6.5 K","7.0 K"],
                "range": ["#000000","#FF0000","#55DD00","#2050F0","#40E8D0","#40E8D0","#B23AEE","#E6E600","#6A1FD1","#6B7B0F","#0000B4","#6B0808","#22C022","#1FA070","#FF8040","#000000"]}}
          }
        },
        {
          "data": {"values": [{"t": "(a)"}]},
          "mark": {"type": "text", "fontSize": 33, "font": "Liberation Sans", "color": "black", "baseline": "middle", "align": "center"},
          "encoding": {
            "x": {"datum": 10940, "type": "quantitative"},
            "y": {"datum": 3.6, "type": "quantitative"},
            "text": {"field": "t"}
          }
        }
      ]
    },
    {
      "width": 837,
      "height": 502,
      "layer": [
        {
          "data": {"name": "d"},
          "transform": [{"filter": {"field": "p2", "valid": true}}],
          "mark": {"type": "point", "filled": true, "opacity": 1, "size": 190, "strokeWidth": 0},
          "encoding": {
            "x": {"field": "f", "type": "quantitative", "scale": {"type": "log", "domain": [5, 20000], "nice": false},
              "axis": {"title": "Frequency / Hz", "titlePadding": 24, "values": [6,7,8,9,10,20,30,40,50,60,70,80,90,100,200,300,400,500,600,700,800,900,1000,2000,3000,4000,5000,6000,7000,8000,9000,10000],
                "labelExpr": "indexof([10,100,1000,10000], datum.value) >= 0 ? format(datum.value, 'd') : ''",
                "tickSize": {"condition": {"test": "indexof([10,100,1000,10000], datum.value) >= 0", "value": 9}, "value": 5}}},
            "y": {"field": "p2", "type": "quantitative", "scale": {"domain": [0, 1.6], "nice": false},
              "axis": {"title": "χ''ₘ / cm³ mol⁻¹", "titleX": -81, "titleBaseline": "middle", "values": [0,0.25,0.5,0.75,1,1.25,1.5],
                "labelExpr": "datum.value % 0.5 === 0 ? format(datum.value, '.1f') : ''",
                "tickSize": {"condition": {"test": "datum.value % 0.5 === 0", "value": 9}, "value": 5}}},
            "color": {"field": "s", "type": "nominal",
              "scale": {"domain": ["2.3 K","2.5 K","3.0 K","3.3 K","3.5 K","3.5 K ","3.8 K","4.0 K","P","4.3 K","4.5 K","5.0 K","5.5 K","6.0 K","6.5 K","7.0 K"],
                "range": ["#000000","#FF0000","#66FF00","#2050F0","#7FFFDF","#7FFFDF","#B23AEE","#FFFF00","#6A1FD1","#6B7B0F","#0000B4","#6B0808","#22C022","#1FA070","#2030FF","#FF9A60"]},
              "legend": {"values": ["2.3 K","2.5 K","3.0 K","3.3 K","3.5 K","3.5 K ","3.8 K","4.0 K","4.3 K","4.5 K","5.0 K","5.5 K","6.0 K","6.5 K","7.0 K"],
                "orient": "none", "legendX": 60, "legendY": 16, "columns": 2, "title": null, "symbolSize": 170, "labelFontSize": 26, "labelFont": "Liberation Sans", "labelColor": "black", "labelOffset": 24, "rowPadding": 7, "columnPadding": 48, "symbolStrokeWidth": 0, "symbolOpacity": 1, "labelLimit": 200}},
            "shape": {"field": "s", "type": "nominal",
              "scale": {"domain": ["2.3 K","2.5 K","3.0 K","3.3 K","3.5 K","3.5 K ","3.8 K","4.0 K","P","4.3 K","4.5 K","5.0 K","5.5 K","6.0 K","6.5 K","7.0 K"],
                "range": ["square","circle","M0,-1L1.1,0.9H-1.1Z","M0,1L1.1,-0.9H-1.1Z","M0,-1.15L1.15,0L0,1.15L-1.15,0Z","M0,-1.15L1.15,0L0,1.15L-1.15,0Z","M-1,0L0.9,-1.1V1.1Z","M1,0L-0.9,-1.1V1.1Z","M0,-1L0.951,-0.309L0.588,0.809L-0.588,0.809L-0.951,-0.309Z","M0,-1L0.866,-0.5L0.866,0.5L0,1L-0.866,0.5L-0.866,-0.5Z","M0,-1.1L0.26,-0.36L1.05,-0.34L0.42,0.14L0.65,0.89L0,0.44L-0.65,0.89L-0.42,0.14L-1.05,-0.34L-0.26,-0.36Z","circle","M-0.07,-1H0.07V-0.07H1V0.07H0.07V1H-0.07V0.07H-1V-0.07H-0.07Z","M-0.7,-0.8L0.8,0.7L0.7,0.8L-0.8,-0.7ZM-0.8,0.7L0.7,-0.8L0.8,-0.7L-0.7,0.8Z","M-0.07,-1H0.07V-0.07H1V0.07H0.07V1H-0.07V0.07H-1V-0.07H-0.07ZM-0.7,-0.8L0.8,0.7L0.7,0.8L-0.8,-0.7ZM-0.8,0.7L0.7,-0.8L0.8,-0.7L-0.7,0.8ZM-0.2,-0.2H0.2V0.2H-0.2Z","M-0.6,-0.08H0.6V0.08H-0.6Z"]},
              "legend": {"values": ["2.3 K","2.5 K","3.0 K","3.3 K","3.5 K","3.5 K ","3.8 K","4.0 K","4.3 K","4.5 K","5.0 K","5.5 K","6.0 K","6.5 K","7.0 K"],
                "orient": "none", "legendX": 60, "legendY": 16, "columns": 2, "title": null, "symbolSize": 170, "labelFontSize": 26, "labelFont": "Liberation Sans", "labelColor": "black", "labelOffset": 24, "rowPadding": 7, "columnPadding": 48, "symbolStrokeWidth": 0, "symbolOpacity": 1, "labelLimit": 200}}
          }
        },
        {
          "data": {"name": "d"},
          "transform": [{"filter": {"field": "c2", "valid": true}}],
          "mark": {"type": "line", "interpolate": "monotone", "strokeWidth": 1.2},
          "encoding": {
            "x": {"field": "f", "type": "quantitative"},
            "y": {"field": "c2", "type": "quantitative", "title": "χ''ₘ / cm³ mol⁻¹"},
            "stroke": {"field": "s", "type": "nominal", "legend": null,
              "scale": {"domain": ["2.3 K","2.5 K","3.0 K","3.3 K","3.5 K","3.5 K ","3.8 K","4.0 K","P","4.3 K","4.5 K","5.0 K","5.5 K","6.0 K","6.5 K","7.0 K"],
                "range": ["#000000","#FF0000","#55DD00","#2050F0","#40E8D0","#40E8D0","#B23AEE","#E6E600","#6A1FD1","#6B7B0F","#0000B4","#6B0808","#22C022","#1FA070","#2030FF","#FF8040"]}}
          }
        },
        {
          "data": {"values": [{"t": "(b)"}]},
          "mark": {"type": "text", "fontSize": 33, "font": "Liberation Sans", "color": "black", "baseline": "middle", "align": "center"},
          "encoding": {
            "x": {"datum": 10940, "type": "quantitative"},
            "y": {"datum": 1.37, "type": "quantitative"},
            "text": {"field": "t"}
          }
        }
      ]
    }
  ]
}
